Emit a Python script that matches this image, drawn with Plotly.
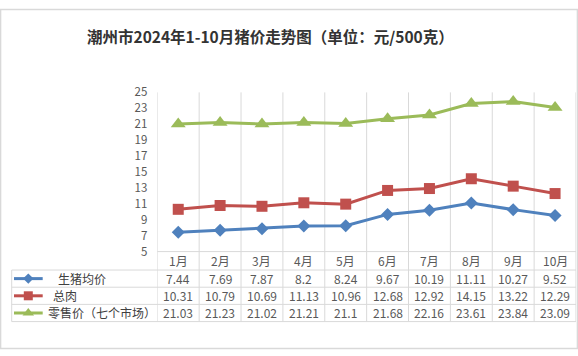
import plotly.graph_objects as go

W, H = 578, 356

months = ["1月", "2月", "3月", "4月", "5月", "6月", "7月", "8月", "9月", "10月"]
series_names = ["生猪均价", "总肉", "零售价（七个市场）"]
live_pig = [7.44, 7.69, 7.87, 8.2, 8.24, 9.67, 10.19, 11.11, 10.27, 9.52]
total_meat = [10.31, 10.79, 10.69, 11.13, 10.96, 12.68, 12.92, 14.15, 13.22, 12.29]
retail = [21.03, 21.23, 21.02, 21.21, 21.1, 21.68, 22.16, 23.61, 23.84, 23.09]
y_ticks = [5, 7, 9, 11, 13, 15, 17, 19, 21, 23, 25]
title_text = "潮州市2024年1-10月猪价走势图（单位：元/500克）"

values = [live_pig, total_meat, retail]
colors = ["#4f81bd", "#c0504d", "#9bbb59"]
symbols = ["diamond", "square", "triangle-up"]
msizes = [10, 11, 13]
key_sizes = [8, 9, 10]

FONT = "Noto Sans CJK SC, Microsoft YaHei, sans-serif"
GRID = "#d9d9d9"
TXT = "#595959"

PX_L, PX_R = 157.3, 576.0
PY_T, PY_B = 87.3, 254.0
TBL_LEFT = 11.7
ROW_LINES = [273.3, 291.3, 309.3, 327.3]

def px(x):
    return x / W

def py(y):
    return 1 - y / H

fig = go.Figure()
for name, vals, c, s, ms in zip(series_names, values, colors, symbols, msizes):
    fig.add_trace(go.Scatter(
        x=months, y=vals, name=name, mode="lines+markers",
        line=dict(color=c, width=3),
        marker=dict(symbol=s, size=ms, color=c, line=dict(width=0)),
        showlegend=False, cliponaxis=False,
    ))

shapes = []
annotations = []

for i in range(len(months) + 1):
    shapes.append(dict(type="line", xref="x", yref="paper", layer="below",
                       x0=i - 0.5, x1=i - 0.5, y0=py(PY_T), y1=py(ROW_LINES[-1]),
                       line=dict(color=GRID, width=1)))
shapes.append(dict(type="line", xref="paper", yref="paper", layer="below",
                   x0=px(PX_L), x1=px(PX_R), y0=py(PY_B), y1=py(PY_B),
                   line=dict(color=GRID, width=1)))
for yl in ROW_LINES:
    shapes.append(dict(type="line", xref="paper", yref="paper", layer="below",
                       x0=px(TBL_LEFT), x1=px(PX_R), y0=py(yl), y1=py(yl),
                       line=dict(color=GRID, width=1)))
shapes.append(dict(type="line", xref="paper", yref="paper", layer="below",
                   x0=px(TBL_LEFT), x1=px(TBL_LEFT), y0=py(ROW_LINES[0]), y1=py(ROW_LINES[-1]),
                   line=dict(color=GRID, width=1)))
shapes.append(dict(type="rect", xref="paper", yref="paper", x0=0.001, x1=0.999, y0=0.0015, y1=0.9985,
                   line=dict(color=GRID, width=1.5)))

hdr_y = (PY_B + ROW_LINES[0]) / 2
for m in months:
    annotations.append(dict(x=m, y=py(hdr_y), xref="x", yref="paper", text=m,
                            showarrow=False, font=dict(size=12, color=TXT, family=FONT),
                            xanchor="center", yanchor="middle", borderpad=0))

label_x = [57, 52, 47]
for r, (name, vals, c, s, ks) in enumerate(zip(series_names, values, colors, symbols, key_sizes)):
    yc = (ROW_LINES[r] + ROW_LINES[r + 1]) / 2
    for m, v in zip(months, vals):
        annotations.append(dict(x=m, y=py(yc), xref="x", yref="paper", text=f"{v:g}",
                                showarrow=False, font=dict(size=12, color=TXT, family=FONT),
                                xanchor="center", yanchor="middle", borderpad=0))
    annotations.append(dict(x=px(label_x[r]), y=py(yc), xref="paper", yref="paper", text=name,
                            showarrow=False, font=dict(size=12, color="#404040", family=FONT),
                            xanchor="left", yanchor="middle", borderpad=0))
    shapes.append(dict(type="line", xref="paper", yref="paper",
                       x0=px(14), x1=px(42.7), y0=py(yc), y1=py(yc),
                       line=dict(color=c, width=3)))
    fig.add_trace(go.Scatter(
        x=[px(28.3)], y=[py(yc)], xaxis="x2", yaxis="y2", mode="markers",
        marker=dict(symbol=s, size=ks, color=c), showlegend=False, hoverinfo="skip",
    ))

annotations.append(dict(x=px(270), y=py(28), xref="paper", yref="paper", text=f"<b>{title_text}</b>",
                        showarrow=False, font=dict(size=15.5, color="#333333", family=FONT),
                        xanchor="center", yanchor="middle"))

fig.update_layout(
    width=W, height=H,
    margin=dict(l=0, r=0, t=0, b=0),
    paper_bgcolor="white", plot_bgcolor="rgba(0,0,0,0)",
    font=dict(family=FONT, color=TXT),
    xaxis=dict(domain=[px(PX_L), px(PX_R)], range=[-0.5, len(months) - 0.5],
               type="category", showticklabels=False, showgrid=False, zeroline=False,
               ticks="", showline=False, fixedrange=True),
    yaxis=dict(domain=[py(PY_B), py(PY_T)], range=[5, 25], tickvals=y_ticks,
               showgrid=False, zeroline=False, showline=False, ticks="",
               tickfont=dict(size=11.5, color=TXT, family=FONT), ticklabelstandoff=9),
    xaxis2=dict(domain=[0, 1], range=[0, 1], visible=False, anchor="y2"),
    yaxis2=dict(domain=[0, 1], range=[0, 1], visible=False, anchor="x2"),
    shapes=shapes, annotations=annotations,
)

fig.write_html("out.html", config={"displayModeBar": False},
               post_script="document.body.style.margin='0';document.body.style.overflow='hidden';")
